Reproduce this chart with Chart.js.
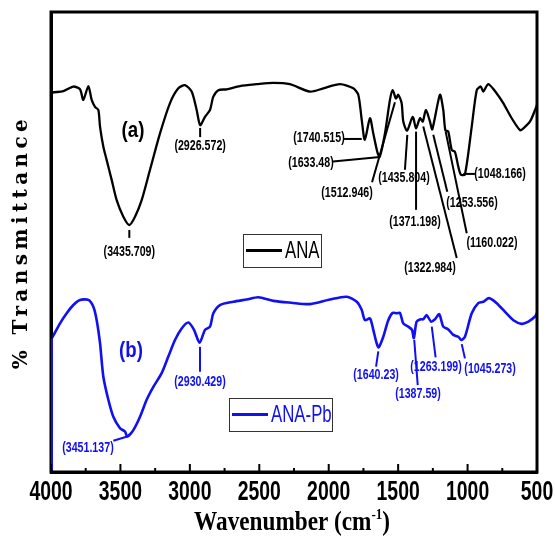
<!DOCTYPE html>
<html>
<head>
<meta charset="utf-8">
<script src="https://cdn.jsdelivr.net/npm/chart.js@4.4.0/dist/chart.umd.min.js"></script>
<style>
  html, body { margin: 0; padding: 0; background: #fff; }
</style>
</head>
<body>
<canvas id="chart01" width="555" height="537"></canvas>
<script>
// FTIR spectra, wavenumber (cm-1) vs % transmittance (arbitrary offset)
var wnA = [4000,3988,3911,3839,3791,3767,3731,3707,3683,3659,3647,3623,3599,3563,3527,3479,3436,3395,3347,3287,
  3215,3143,3083,3035,2987,2951,2926,2891,2855,2831,2795,2735,2639,2519,2399,2279,2135,2039,1919,1823,
  1787,1762,1740,1703,1679,1650,1633,1595,1559,1539,1516,1499,1475,1463,1436,1395,1371,1343,1323,1300,
  1271,1254,1199,1175,1160,1139,1114,1091,1067,1048,1019,970,934,905,887,851,790,743,682,622,
  598,550,514,500];
var tA = [82.3,82.5,82.8,83.8,83.2,80.9,83.9,80.9,79.4,78.7,75.1,70.7,67.8,63.5,59.1,55.5,53.7,55.5,59.1,65.7,
  73.6,80.2,83.4,84.1,82.7,78.7,75.4,77.2,78.7,81.6,83.0,83.2,83.9,84.3,84.6,84.3,82.7,83.4,84.3,83.4,
  82.0,76.5,72.2,76.9,73.6,69.6,68.5,73.6,80.9,83.0,81.2,82.0,80.2,76.2,74.2,77.2,74.7,76.9,76.2,78.7,
  76.2,74.5,82.0,78.7,74.3,74.0,70.0,69.6,66.4,64.6,64.7,75.1,83.0,83.8,82.7,84.3,82.3,80.2,76.9,74.3,
  74.7,76.2,78.7,79.8];

var wnB = [4000,4000,3988,3935,3887,3839,3791,3731,3695,3671,3647,3623,3587,3551,3503,3467,3451,3407,3359,3311,
  3263,3203,3155,3107,3059,3011,2970,2930,2891,2855,2831,2783,2687,2591,2507,2399,2270,2135,1991,1871,
  1798,1762,1739,1703,1679,1655,1640,1607,1571,1539,1510,1487,1463,1427,1400,1387,1367,1338,1319,1295,
  1263,1235,1204,1175,1139,1103,1067,1045,1019,970,923,887,846,790,730,670,610,562,514,500];
var tB = [0,29.0,29.4,32.3,34.5,36.3,37.4,37.4,35.9,33.0,28.0,20.7,15.7,12.0,9.5,8.8,7.7,9.1,12.0,15.7,
  18.5,21.5,25.1,28.7,31.2,32.5,30.9,28.1,30.9,31.6,34.5,36.3,37.0,37.5,38.0,37.2,36.8,36.5,37.5,38.1,
  37.0,35.2,33.0,33.4,30.9,28.0,27.1,29.4,33.0,34.6,34.5,34.6,32.3,31.6,30.9,29.1,32.7,33.2,33.2,34.1,
  32.7,33.2,34.3,31.6,31.0,29.8,29.4,28.7,29.4,34.5,36.7,37.0,37.8,36.7,34.8,33.0,32.2,32.7,33.8,34.6];

var xTicks = [4000,3500,3000,2500,2000,1500,1000,500];

// peak labels
var peaksA = ['3435.709','2926.572','1740.515','1633.48','1512.946','1435.804','1371.198','1322.984','1253.556','1160.022','1048.166'];
var peaksB = ['3451.137','2930.429','1640.23','1387.59','1263.199','1045.273'];

// leader line start (wn, T), leader end (wn, T), label centre (wn, T)
var placeA = [
  [3436,52.6, 3436,50.9, 3436,47.8],
  [2926,74.8, 2926,72.8, 2926,70.9],
  [1762,72.4, 1897,72.4, 2070,72.6],
  [1631,68.5, 1969,67.5, 2128,67.2],
  [1523,80.4, 1688,63.0, 1868,60.7],
  [1434,73.3, 1451,65.7, 1458,63.9],
  [1371,74.0, 1371,57.0, 1379,54.3],
  [1319,75.1, 1078,46.5, 1271,44.3],
  [1247,73.3, 1146,60.9, 968,58.5],
  [1158,74.0, 1006,51.9, 824,49.8],
  [1031,64.8, 947,64.8, 766,64.8]
];
var placeB = [
  [3451,7.7, 3551,6.8, 3734,5.2],
  [2927,27.2, 2927,21.8, 2927,19.6],
  [1643,26.2, 1659,22.9, 1659,21.1],
  [1384,28.7, 1359,18.9, 1357,17.0],
  [1258,31.6, 1230,24.9, 1227,22.9],
  [1042,27.8, 1019,24.7, 838,22.4]
];

var BLUE = '#1010f0';
var SANS = '"Liberation Sans", Arial, sans-serif';

function pts(xs, ys){
  var out = [];
  for (var i = 0; i < xs.length; i++){
    out.push({x: xs[i], y: ys[i]});
  }
  return out;
}

// condensed look: draw a normal face squeezed horizontally
function squeezeText(ctx, str, x, y, font, color, sx, align){
  ctx.save();
  ctx.font = font;
  ctx.fillStyle = color;
  ctx.textAlign = align || 'center';
  ctx.textBaseline = 'middle';
  ctx.translate(x, y);
  ctx.scale(sx, 1);
  ctx.fillText(str, 0, 0);
  ctx.restore();
}

var decorPlugin = {
  id: 'decor',
  afterDatasetsDraw: function(chart){
    var ctx = chart.ctx;
    var xs = chart.scales.x, ys = chart.scales.y;
    var a = chart.chartArea;

    // frame
    ctx.save();
    ctx.strokeStyle = '#000';
    ctx.lineWidth = 3;
    ctx.strokeRect(a.left, a.top, a.right - a.left, a.bottom - a.top);
    // blue part of left axis below trace b
    ctx.strokeStyle = BLUE;
    ctx.lineWidth = 2;
    ctx.beginPath();
    ctx.moveTo(a.left + 1, ys.getPixelForValue(29));
    ctx.lineTo(a.left + 1, a.bottom - 2);
    ctx.stroke();

    // inward ticks + labels
    ctx.strokeStyle = '#000';
    ctx.lineWidth = 2;
    xs.ticks.forEach(function(t){
      var px = xs.getPixelForValue(t.value);
      var major = xTicks.indexOf(t.value) >= 0;
      ctx.beginPath();
      ctx.moveTo(px, a.bottom);
      ctx.lineTo(px, a.bottom - (major ? 8 : 4));
      ctx.stroke();
      if (major) {
        squeezeText(ctx, String(t.value), px, a.bottom + 21, 'bold 27px ' + SANS, '#000', 0.72);
      }
    });
    ctx.restore();

    // peak annotations
    function annotate(labels, place, color){
      for (var i = 0; i < labels.length; i++){
        var p = place[i];
        ctx.save();
        ctx.strokeStyle = color;
        ctx.lineWidth = 2;
        ctx.beginPath();
        ctx.moveTo(xs.getPixelForValue(p[0]), ys.getPixelForValue(p[1]));
        ctx.lineTo(xs.getPixelForValue(p[2]), ys.getPixelForValue(p[3]));
        ctx.stroke();
        ctx.restore();
        squeezeText(ctx, '(' + labels[i] + ')', xs.getPixelForValue(p[4]), ys.getPixelForValue(p[5]),
          'bold 14px ' + SANS, color, 0.76);
      }
    }
    annotate(peaksA, placeA, '#000');
    annotate(peaksB, placeB, BLUE);

    // (a) / (b)
    squeezeText(ctx, '(a)', 133, 131, 'bold 22px ' + SANS, '#000', 0.85);
    squeezeText(ctx, '(b)', 131, 351, 'bold 22px ' + SANS, BLUE, 0.85);

    // the two legend boxes
    function legendBox(x, y, w, h, label, color){
      ctx.save();
      ctx.fillStyle = '#fff';
      ctx.fillRect(x, y, w, h);
      ctx.strokeStyle = '#333';
      ctx.lineWidth = 1;
      ctx.strokeRect(x + 0.5, y + 0.5, w, h);
      ctx.strokeStyle = color;
      ctx.lineWidth = 3;
      ctx.beginPath();
      ctx.moveTo(x + 3, y + h / 2);
      ctx.lineTo(x + 39, y + h / 2);
      ctx.stroke();
      ctx.restore();
      squeezeText(ctx, label, x + 42, y + h / 2 + 1, '24px ' + SANS, color, 0.7, 'left');
    }
    legendBox(243, 234, 78, 33, chart.data.datasets[0].label, '#000');
    legendBox(229, 398, 103, 33, chart.data.datasets[1].label, BLUE);
  },
  afterDraw: function(chart){
    var ctx = chart.ctx;
    // y title
    ctx.save();
    ctx.translate(27, 242);
    ctx.rotate(-Math.PI / 2);
    ctx.font = 'bold 20px "DejaVu Serif"';
    ctx.letterSpacing = '4.4px';
    ctx.fillStyle = '#000';
    ctx.textAlign = 'center';
    ctx.textBaseline = 'alphabetic';
    ctx.fillText('% Transmittance', 0, 0);
    ctx.restore();

    // x title with superscript
    ctx.save();
    var main1 = 'Wavenumber (cm', sup = '-1', main2 = ')';
    var fMain = 'bold 27px "Liberation Serif"', fSup = 'bold 15px "Liberation Serif"';
    ctx.font = fMain;
    var w1 = ctx.measureText(main1).width, w3 = ctx.measureText(main2).width;
    ctx.font = fSup;
    var w2 = ctx.measureText(sup).width;
    var total = w1 + w2 + w3;
    ctx.translate(292, 530);
    ctx.scale(0.86, 1);
    ctx.fillStyle = '#000';
    ctx.textBaseline = 'alphabetic';
    ctx.textAlign = 'left';
    var x0 = -total / 2;
    ctx.font = fMain;
    ctx.fillText(main1, x0, 0);
    ctx.font = fSup;
    ctx.fillText(sup, x0 + w1, -11);
    ctx.font = fMain;
    ctx.fillText(main2, x0 + w1 + w2, 0);
    ctx.restore();
  }
};

var ctx = document.getElementById('chart01').getContext('2d');
var myChart = new Chart(ctx, {
  type: 'line',
  data: {
    datasets: [{
      label: 'ANA',
      data: pts(wnA, tA),
      borderColor: '#000',
      borderWidth: 2.3,
      pointRadius: 0,
      tension: 0.25,
      fill: false
    }, {
      label: 'ANA-Pb',
      data: pts(wnB, tB),
      borderColor: BLUE,
      borderWidth: 2.6,
      pointRadius: 0,
      tension: 0.25,
      fill: false
    }]
  },
  options: {
    responsive: false,
    animation: false,
    layout: { padding: { top: 12, right: 18, left: 0, bottom: 0 } },
    plugins: { legend: { display: false }, tooltip: { enabled: false } },
    scales: {
      x: {
        type: 'linear',
        reverse: true,
        min: 500,
        max: 4000,
        afterBuildTicks: function(scale){
          var t = [];
          for (var v = 4000; v >= 500; v -= 250) t.push({value: v});
          scale.ticks = t;
        },
        ticks: { display: false },
        grid: { display: false, drawTicks: false },
        border: { display: true, width: 3, color: '#000' },
        afterFit: function(scale){
          scale.height = 65;
          scale.paddingLeft = 0;
          scale.paddingRight = 0;
        }
      },
      y: {
        min: 0,
        max: 100,
        ticks: { display: false },
        grid: { display: false, drawTicks: false },
        border: { display: true, width: 3, color: '#000' },
        afterFit: function(scale){ scale.width = 51; }
      }
    }
  },
  plugins: [decorPlugin]
});
</script>
</body>
</html>
